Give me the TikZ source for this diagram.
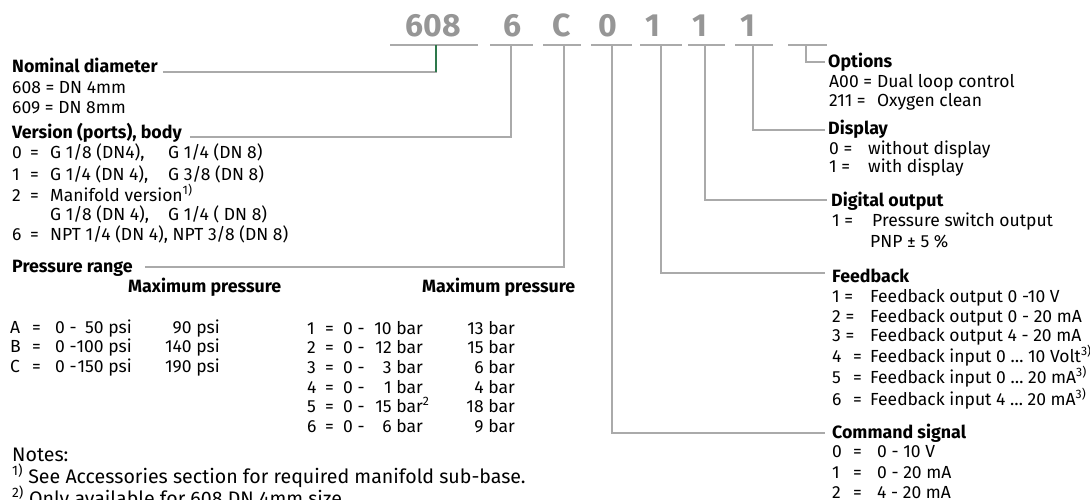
\documentclass[tikz,border=0pt]{standalone}
\usepackage{fontspec}
\setmainfont{Fira Sans}
\definecolor{codegrey}{RGB}{150,150,150}
\definecolor{linegrey}{RGB}{170,170,170}
\definecolor{dkgreen}{RGB}{45,120,75}
\begin{document}
\begin{tikzpicture}[x=1pt,y=-1pt,
  txt/.style={anchor=base west, inner sep=0pt, font=\fontsize{17.5}{20}\selectfont},
  rtx/.style={anchor=base east, inner sep=0pt, font=\fontsize{17.5}{20}\selectfont},
  hd/.style={anchor=base west, inner sep=0pt, font=\fontsize{17.8}{20}\selectfont\bfseries},
  note/.style={anchor=base west, inner sep=0pt, font=\fontsize{19.6}{22}\selectfont},
  code/.style={anchor=base, inner sep=0pt, font=\fontsize{32}{32}\selectfont\bfseries, text=codegrey},
  conn/.style={draw=linegrey, line width=1.3pt},
  ul/.style={draw=linegrey, line width=1.3pt}]
\useasboundingbox (0,0) rectangle (1090,500);

% ---- order code ----
\node[code] (c608) at (433,37) {608};
\node[code] (c6) at (513,37) {6};
\node[code] (cC) at (562,37) {C};
\node[code] (c0) at (608,37) {0};
\node[code] (c1a) at (653,37) {1};
\node[code] (c1b) at (700,37) {1};
\node[code] (c1c) at (748,37) {1};
\draw[ul] (390,45) -- (478,45);
\draw[ul] (490,45) -- (533,45);
\draw[ul] (543,45) -- (581,45);
\draw[ul] (591,45) -- (632,45);
\draw[ul] (640,45) -- (682,45);
\draw[ul] (688,45) -- (725,45);
\draw[ul] (735,45) -- (773,45);
\draw[ul] (788,45) -- (827,45);
\coordinate (t608) at (436,45);
\coordinate (t6) at (511,45);
\coordinate (tC) at (564,45);
\coordinate (t0) at (612,45);
\coordinate (t1a) at (661,45);
\coordinate (t1b) at (705,45);
\coordinate (t1c) at (753,45);
\coordinate (topt) at (806,45);

% ---- left: nominal diameter ----
\node[hd] (nom) at (12,73) {Nominal diameter};
\node[txt] (nom1) at (12,94) {608 = DN 4mm};
\node[txt] (nom2) at (12,114) {609 = DN 8mm};

% ---- version ----
\node[hd] (ver) at (12,139) {Version (ports), body};
\node[txt] (v0k) at (12,159) {0}; \node[txt] (v0e) at (30,159) {=};
\node[txt] (v0a) at (50,159) {G 1/8 (DN4),}; \node[txt] (v0b) at (168,159) {G 1/4 (DN 8)};
\node[txt] (v1k) at (12,180) {1}; \node[txt] (v1e) at (30,180) {=};
\node[txt] (v1a) at (50,180) {G 1/4 (DN 4),}; \node[txt] (v1b) at (168,180) {G 3/8 (DN 8)};
\node[txt] (v2k) at (12,201) {2}; \node[txt] (v2e) at (30,201) {=};
\node[txt] (v2a) at (50,201) {Manifold version\textsuperscript{1)}};
\node[txt] (v3a) at (50,220) {G 1/8 (DN 4),}; \node[txt] (v3b) at (168,220) {G 1/4 ( DN 8)};
\node[txt] (v6k) at (12,240) {6}; \node[txt] (v6e) at (30,240) {=};
\node[txt] (v6a) at (50,240) {NPT 1/4 (DN 4), NPT 3/8 (DN 8)};

% ---- pressure range ----
\node[hd] (pr) at (12,272) {Pressure range};
\node[hd] (mp1) at (128,292) {Maximum pressure};
\node[hd] (mp2) at (422,292) {Maximum pressure};
% psi
\node[txt] (pAk) at (10,333) {A}; \node[txt] (pAe) at (32,333) {=}; \node[txt] (pAz) at (55,333) {0 -};
\node[rtx] (pAv) at (132,333) {50 psi}; \node[rtx] (pAm) at (220,333) {90 psi};
\node[txt] (pBk) at (10,352) {B}; \node[txt] (pBe) at (32,352) {=}; \node[txt] (pBz) at (55,352) {0 -};
\node[rtx] (pBv) at (132,352) {100 psi}; \node[rtx] (pBm) at (220,352) {140 psi};
\node[txt] (pCk) at (10,372) {C}; \node[txt] (pCe) at (32,372) {=}; \node[txt] (pCz) at (55,372) {0 -};
\node[rtx] (pCv) at (132,372) {150 psi}; \node[rtx] (pCm) at (220,372) {190 psi};
% bar
\node[txt] (b1k) at (307,334) {1}; \node[txt] (b1e) at (325,334) {=}; \node[txt] (b1z) at (343,334) {0 -};
\node[rtx] (b1v) at (423,334) {10 bar}; \node[rtx] (b1m) at (515,334) {13 bar};
\node[txt] (b2k) at (307,353) {2}; \node[txt] (b2e) at (325,353) {=}; \node[txt] (b2z) at (343,353) {0 -};
\node[rtx] (b2v) at (423,353) {12 bar}; \node[rtx] (b2m) at (515,353) {15 bar};
\node[txt] (b3k) at (307,373) {3}; \node[txt] (b3e) at (325,373) {=}; \node[txt] (b3z) at (343,373) {0 -};
\node[rtx] (b3v) at (423,373) {3 bar}; \node[rtx] (b3m) at (515,373) {6 bar};
\node[txt] (b4k) at (307,393) {4}; \node[txt] (b4e) at (325,393) {=}; \node[txt] (b4z) at (343,393) {0 -};
\node[rtx] (b4v) at (423,393) {1 bar}; \node[rtx] (b4m) at (515,393) {4 bar};
\node[txt] (b5k) at (307,412) {5}; \node[txt] (b5e) at (325,412) {=}; \node[txt] (b5z) at (343,412) {0 -};
\node[rtx] (b5v) at (423,412) {15 bar\rlap{\textsuperscript{2}}}; \node[rtx] (b5m) at (515,412) {18 bar};
\node[txt] (b6k) at (307,432) {6}; \node[txt] (b6e) at (325,432) {=}; \node[txt] (b6z) at (343,432) {0 -};
\node[rtx] (b6v) at (423,432) {6 bar}; \node[rtx] (b6m) at (515,432) {9 bar};

% ---- notes ----
\node[note] (n0) at (12,461) {Notes:};
\node[note] (n1) at (12,483) {\textsuperscript{1)} See Accessories section for required manifold sub-base.};
\node[note] (n2) at (12,505) {\textsuperscript{2)} Only available for 608 DN 4mm size.};

% ---- right: options ----
\node[hd] (opt) at (828,68) {Options};
\node[txt] (o1k) at (829,88) {A00 =}; \node[txt] (o1a) at (877,88) {Dual loop control};
\node[txt] (o2k) at (829,107) {211 =}; \node[txt] (o2a) at (877,107) {Oxygen clean};

% ---- display ----
\node[hd] (disp) at (828,135) {Display};
\node[txt] (d0k) at (829,155) {0 =}; \node[txt] (d0a) at (868,155) {without display};
\node[txt] (d1k) at (829,173) {1 =}; \node[txt] (d1a) at (868,173) {with display};

% ---- digital output ----
\node[hd] (dig) at (831,207) {Digital output};
\node[txt] (g1k) at (832,226) {1 =}; \node[txt] (g1a) at (872,226) {Pressure switch output};
\node[txt] (g1b) at (870,247) {PNP ± 5 \%};

% ---- feedback ----
\node[hd] (fb) at (832,282) {Feedback};
\node[txt] (f1k) at (832,302) {1 =}; \node[txt] (f1a) at (870,302) {Feedback output 0 -10 V};
\node[txt] (f2k) at (832,322) {2 =}; \node[txt] (f2a) at (870,322) {Feedback output 0 - 20 mA};
\node[txt] (f3k) at (832,341) {3 =}; \node[txt] (f3a) at (870,341) {Feedback output 4 - 20 mA};
\node[txt] (f4k) at (832,362) {4}; \node[txt] (f4e) at (853,362) {=}; \node[txt] (f4a) at (870,362) {Feedback input 0 … 10 Volt\textsuperscript{3)}};
\node[txt] (f5k) at (832,383) {5}; \node[txt] (f5e) at (853,383) {=}; \node[txt] (f5a) at (870,383) {Feedback input 0 … 20 mA\textsuperscript{3)}};
\node[txt] (f6k) at (832,405) {6}; \node[txt] (f6e) at (853,405) {=}; \node[txt] (f6a) at (870,405) {Feedback input 4 … 20 mA\textsuperscript{3)}};

% ---- command signal ----
\node[hd] (cmd) at (832,438) {Command signal};
\node[txt] (s0k) at (832,457) {0}; \node[txt] (s0e) at (853,457) {=}; \node[txt] (s0a) at (877,457) {0 - 10 V};
\node[txt] (s1k) at (832,478) {1}; \node[txt] (s1e) at (853,478) {=}; \node[txt] (s1a) at (877,478) {0 - 20 mA};
\node[txt] (s2k) at (832,498) {2}; \node[txt] (s2e) at (853,498) {=}; \node[txt] (s2a) at (877,498) {4 - 20 mA};

% ---- connectors ----
\draw[conn] ([shift={(5pt,1pt)}]nom.base east) -| (t608);
\draw[draw=dkgreen, line width=1.1pt] (t608) -- ([yshift=1pt]t608 |- nom.base);
\draw[conn] ([shift={(8pt,2pt)}]ver.base east) -| (t6);
\draw[conn] ([shift={(12pt,5pt)}]pr.base east) -| (tC);
\draw[conn] (t0) |- ([shift={(-7pt,5pt)}]cmd.base west);
\draw[conn] (t1a) |- ([shift={(-7pt,9pt)}]fb.base west);
\draw[conn] (t1b) |- ([shift={(-4pt,7pt)}]dig.base west);
\draw[conn] (t1c) |- ([shift={(-3pt,5pt)}]disp.base west);
\draw[conn] (topt) |- ([shift={(-3pt,6pt)}]opt.base west);
\end{tikzpicture}
\end{document}
